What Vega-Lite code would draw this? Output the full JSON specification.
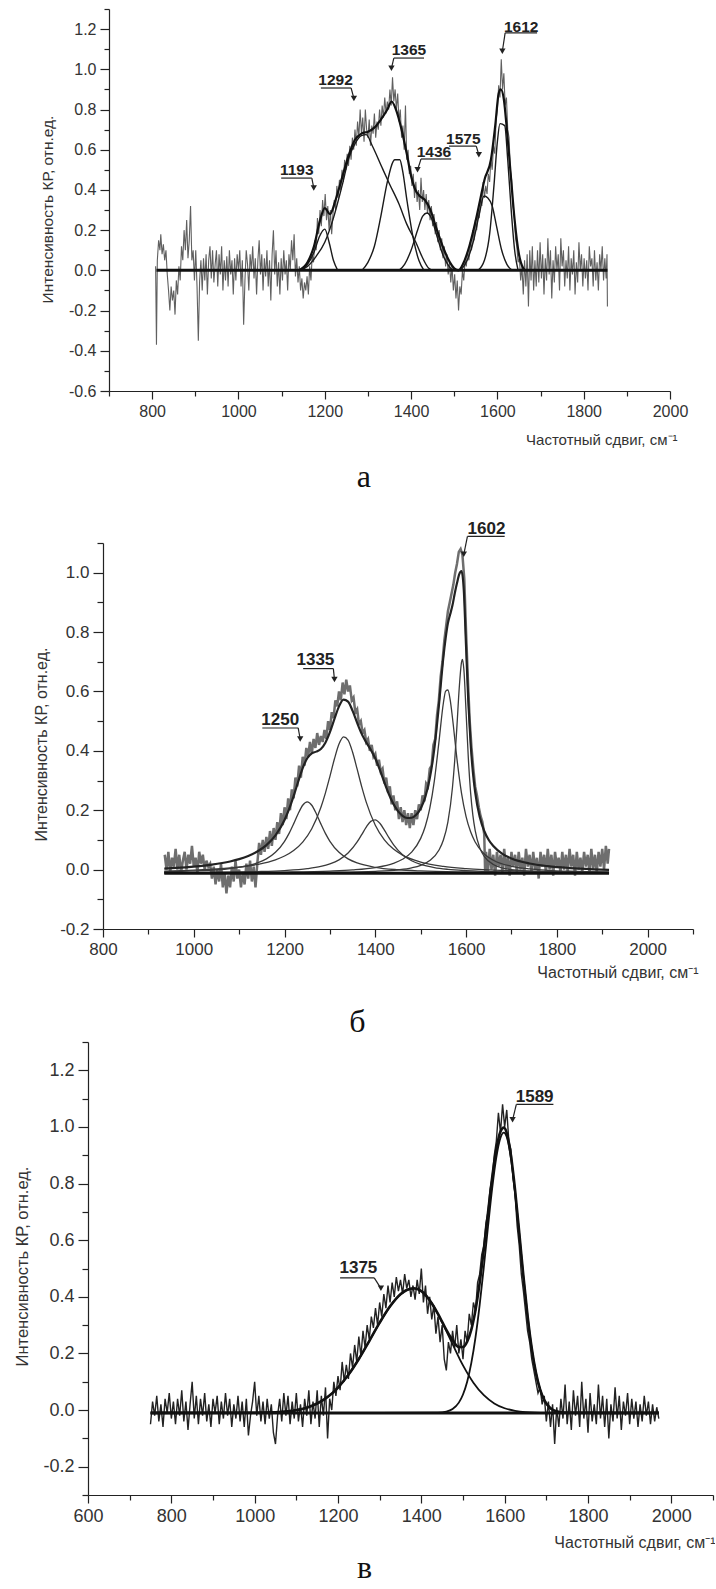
{
  "$schema": "https://vega.github.io/schema/vega-lite/v6.json",
  "padding": {"left": 0, "top": 1, "right": 0, "bottom": 0},
  "spacing": 26,
  "config": {
    "view": {"stroke": null},
    "font": "Liberation Sans",
    "axis": {"domainColor": "#222", "domainWidth": 1.2, "tickColor": "#222", "tickWidth": 1.2, "labelColor": "#333", "titleColor": "#333", "labelFont": "Liberation Sans", "titleFont": "Liberation Sans", "titleFontWeight": "normal", "grid": false, "labelOverlap": false, "labelFlush": false, "labelBound": false},
    "title": {"font": "Liberation Serif", "fontWeight": "normal", "fontSize": 32, "color": "#111"}
  },
  "datasets": {
    "a_noise": [{"x":808,"y":0.02},{"x":810,"y":-0.37},{"x":812,"y":0.05},{"x":815,"y":0.15},{"x":818,"y":0.1},{"x":820,"y":0.18},{"x":823,"y":0.08},{"x":826,"y":0.13},{"x":829,"y":0.05},{"x":832,"y":0.1},{"x":835,"y":-0.02},{"x":838,"y":-0.1},{"x":841,"y":-0.2},{"x":844,"y":-0.08},{"x":847,"y":-0.15},{"x":850,"y":-0.1},{"x":853,"y":-0.22},{"x":856,"y":-0.05},{"x":859,"y":-0.12},{"x":862,"y":0.02},{"x":865,"y":-0.05},{"x":868,"y":0.12},{"x":871,"y":0.05},{"x":874,"y":0.2},{"x":877,"y":0.1},{"x":880,"y":0.25},{"x":883,"y":0.06},{"x":886,"y":0.15},{"x":889,"y":0.32},{"x":892,"y":0.05},{"x":895,"y":0.1},{"x":898,"y":-0.05},{"x":901,"y":0.1},{"x":904,"y":-0.08},{"x":907,"y":-0.35},{"x":910,"y":-0.05},{"x":913,"y":0.05},{"x":916,"y":-0.1},{"x":919,"y":0.06},{"x":922,"y":-0.05},{"x":925,"y":0.08},{"x":928,"y":-0.12},{"x":931,"y":0.05},{"x":934,"y":0.12},{"x":937,"y":-0.04},{"x":940,"y":0.1},{"x":943,"y":-0.06},{"x":946,"y":0.03},{"x":949,"y":0.1},{"x":952,"y":-0.08},{"x":955,"y":0.08},{"x":958,"y":-0.02},{"x":961,"y":0.12},{"x":964,"y":-0.1},{"x":967,"y":0.05},{"x":970,"y":-0.05},{"x":973,"y":0.07},{"x":976,"y":-0.08},{"x":979,"y":0.1},{"x":982,"y":-0.02},{"x":985,"y":0.05},{"x":988,"y":-0.12},{"x":991,"y":0.06},{"x":994,"y":-0.05},{"x":997,"y":0.08},{"x":1000,"y":0.0},{"x":1003,"y":0.1},{"x":1006,"y":-0.08},{"x":1009,"y":0.05},{"x":1012,"y":-0.27},{"x":1015,"y":-0.05},{"x":1018,"y":0.1},{"x":1021,"y":0.03},{"x":1024,"y":-0.1},{"x":1027,"y":0.08},{"x":1030,"y":0.0},{"x":1033,"y":0.12},{"x":1036,"y":-0.04},{"x":1039,"y":0.06},{"x":1042,"y":-0.12},{"x":1045,"y":0.05},{"x":1048,"y":0.15},{"x":1051,"y":-0.02},{"x":1054,"y":0.08},{"x":1057,"y":-0.1},{"x":1060,"y":0.06},{"x":1063,"y":-0.03},{"x":1066,"y":0.1},{"x":1069,"y":-0.08},{"x":1072,"y":0.05},{"x":1075,"y":-0.15},{"x":1078,"y":0.08},{"x":1081,"y":0.2},{"x":1084,"y":-0.02},{"x":1087,"y":0.1},{"x":1090,"y":-0.08},{"x":1093,"y":0.04},{"x":1096,"y":-0.12},{"x":1099,"y":0.06},{"x":1102,"y":-0.05},{"x":1105,"y":0.1},{"x":1108,"y":-0.02},{"x":1111,"y":0.05},{"x":1114,"y":-0.1},{"x":1117,"y":0.08},{"x":1120,"y":0.0},{"x":1123,"y":0.15},{"x":1126,"y":0.05},{"x":1129,"y":0.18},{"x":1132,"y":-0.03},{"x":1135,"y":0.06},{"x":1138,"y":-0.06},{"x":1141,"y":0.02},{"x":1144,"y":-0.1},{"x":1147,"y":-0.04},{"x":1150,"y":-0.14},{"x":1153,"y":-0.06},{"x":1156,"y":-0.1},{"x":1159,"y":-0.03},{"x":1162,"y":-0.12},{"x":1165,"y":0.02},{"x":1168,"y":-0.05},{"x":1171,"y":0.08},{"x":1174,"y":0.04},{"x":1177,"y":0.15},{"x":1180,"y":0.1},{"x":1183,"y":0.26},{"x":1186,"y":0.18},{"x":1189,"y":0.3},{"x":1192,"y":0.22},{"x":1195,"y":0.35},{"x":1198,"y":0.27},{"x":1201,"y":0.38},{"x":1204,"y":0.25},{"x":1207,"y":0.32},{"x":1210,"y":0.2},{"x":1213,"y":0.3},{"x":1216,"y":0.18},{"x":1219,"y":0.28},{"x":1222,"y":0.35},{"x":1225,"y":0.3},{"x":1228,"y":0.42},{"x":1231,"y":0.36},{"x":1234,"y":0.45},{"x":1237,"y":0.4},{"x":1240,"y":0.5},{"x":1243,"y":0.44},{"x":1246,"y":0.55},{"x":1249,"y":0.5},{"x":1252,"y":0.58},{"x":1255,"y":0.52},{"x":1258,"y":0.62},{"x":1261,"y":0.55},{"x":1264,"y":0.66},{"x":1267,"y":0.6},{"x":1270,"y":0.7},{"x":1273,"y":0.62},{"x":1276,"y":0.74},{"x":1279,"y":0.66},{"x":1282,"y":0.8},{"x":1285,"y":0.68},{"x":1288,"y":0.76},{"x":1291,"y":0.64},{"x":1294,"y":0.8},{"x":1297,"y":0.7},{"x":1300,"y":0.66},{"x":1303,"y":0.75},{"x":1306,"y":0.62},{"x":1309,"y":0.72},{"x":1312,"y":0.68},{"x":1315,"y":0.78},{"x":1318,"y":0.66},{"x":1321,"y":0.74},{"x":1324,"y":0.7},{"x":1327,"y":0.8},{"x":1330,"y":0.72},{"x":1333,"y":0.82},{"x":1336,"y":0.76},{"x":1339,"y":0.86},{"x":1342,"y":0.78},{"x":1345,"y":0.84},{"x":1348,"y":0.8},{"x":1351,"y":0.9},{"x":1354,"y":0.82},{"x":1357,"y":0.96},{"x":1360,"y":0.84},{"x":1363,"y":0.9},{"x":1366,"y":0.8},{"x":1369,"y":0.88},{"x":1372,"y":0.74},{"x":1375,"y":0.8},{"x":1378,"y":0.66},{"x":1381,"y":0.72},{"x":1384,"y":0.6},{"x":1387,"y":0.82},{"x":1390,"y":0.55},{"x":1393,"y":0.6},{"x":1396,"y":0.48},{"x":1399,"y":0.52},{"x":1402,"y":0.42},{"x":1405,"y":0.48},{"x":1408,"y":0.36},{"x":1411,"y":0.44},{"x":1414,"y":0.34},{"x":1417,"y":0.4},{"x":1420,"y":0.3},{"x":1423,"y":0.46},{"x":1426,"y":0.34},{"x":1429,"y":0.4},{"x":1432,"y":0.3},{"x":1435,"y":0.38},{"x":1438,"y":0.28},{"x":1441,"y":0.35},{"x":1444,"y":0.25},{"x":1447,"y":0.32},{"x":1450,"y":0.22},{"x":1453,"y":0.28},{"x":1456,"y":0.18},{"x":1459,"y":0.24},{"x":1462,"y":0.14},{"x":1465,"y":0.2},{"x":1468,"y":0.1},{"x":1471,"y":0.16},{"x":1474,"y":0.06},{"x":1477,"y":0.12},{"x":1480,"y":0.02},{"x":1483,"y":0.08},{"x":1486,"y":-0.02},{"x":1489,"y":0.04},{"x":1492,"y":-0.06},{"x":1495,"y":0.02},{"x":1498,"y":-0.1},{"x":1501,"y":-0.02},{"x":1504,"y":-0.14},{"x":1507,"y":-0.05},{"x":1510,"y":-0.2},{"x":1513,"y":-0.08},{"x":1516,"y":-0.12},{"x":1519,"y":0.0},{"x":1522,"y":-0.05},{"x":1525,"y":0.05},{"x":1528,"y":0.02},{"x":1531,"y":0.1},{"x":1534,"y":0.05},{"x":1537,"y":0.14},{"x":1540,"y":0.1},{"x":1543,"y":0.2},{"x":1546,"y":0.15},{"x":1549,"y":0.25},{"x":1552,"y":0.2},{"x":1555,"y":0.3},{"x":1558,"y":0.26},{"x":1561,"y":0.36},{"x":1564,"y":0.32},{"x":1567,"y":0.44},{"x":1570,"y":0.36},{"x":1573,"y":0.42},{"x":1576,"y":0.38},{"x":1579,"y":0.48},{"x":1582,"y":0.44},{"x":1585,"y":0.55},{"x":1588,"y":0.5},{"x":1591,"y":0.62},{"x":1594,"y":0.58},{"x":1597,"y":0.75},{"x":1600,"y":0.8},{"x":1603,"y":0.92},{"x":1606,"y":0.86},{"x":1609,"y":1.05},{"x":1612,"y":0.9},{"x":1615,"y":0.98},{"x":1618,"y":0.82},{"x":1621,"y":0.86},{"x":1624,"y":0.7},{"x":1627,"y":0.66},{"x":1630,"y":0.5},{"x":1633,"y":0.45},{"x":1636,"y":0.32},{"x":1639,"y":0.28},{"x":1642,"y":0.16},{"x":1645,"y":0.12},{"x":1648,"y":0.04},{"x":1651,"y":0.06},{"x":1654,"y":-0.05},{"x":1657,"y":0.02},{"x":1660,"y":-0.12},{"x":1663,"y":0.05},{"x":1666,"y":-0.08},{"x":1669,"y":0.08},{"x":1672,"y":-0.18},{"x":1675,"y":0.1},{"x":1678,"y":-0.05},{"x":1681,"y":0.12},{"x":1684,"y":-0.1},{"x":1687,"y":0.05},{"x":1690,"y":-0.08},{"x":1693,"y":0.1},{"x":1696,"y":-0.06},{"x":1699,"y":0.14},{"x":1702,"y":-0.04},{"x":1705,"y":0.08},{"x":1708,"y":-0.12},{"x":1711,"y":0.06},{"x":1714,"y":-0.05},{"x":1717,"y":0.16},{"x":1720,"y":-0.02},{"x":1723,"y":0.1},{"x":1726,"y":-0.14},{"x":1729,"y":0.05},{"x":1732,"y":-0.06},{"x":1735,"y":0.12},{"x":1738,"y":0.0},{"x":1741,"y":0.08},{"x":1744,"y":-0.1},{"x":1747,"y":0.16},{"x":1750,"y":0.02},{"x":1753,"y":0.1},{"x":1756,"y":-0.08},{"x":1759,"y":0.05},{"x":1762,"y":-0.04},{"x":1765,"y":0.12},{"x":1768,"y":-0.1},{"x":1771,"y":0.06},{"x":1774,"y":-0.02},{"x":1777,"y":0.1},{"x":1780,"y":-0.12},{"x":1783,"y":0.04},{"x":1786,"y":-0.06},{"x":1789,"y":0.14},{"x":1792,"y":0.0},{"x":1795,"y":0.08},{"x":1798,"y":-0.08},{"x":1801,"y":0.06},{"x":1804,"y":-0.04},{"x":1807,"y":0.05},{"x":1810,"y":-0.1},{"x":1813,"y":0.12},{"x":1816,"y":0.02},{"x":1819,"y":0.06},{"x":1822,"y":-0.08},{"x":1825,"y":0.1},{"x":1828,"y":-0.05},{"x":1831,"y":0.04},{"x":1834,"y":-0.1},{"x":1837,"y":0.08},{"x":1840,"y":0.0},{"x":1843,"y":0.12},{"x":1846,"y":-0.05},{"x":1849,"y":0.06},{"x":1852,"y":-0.04},{"x":1854,"y":0.08},{"x":1855,"y":-0.18}],
    "a_comp": [{"s":"1193","x":1145,"y":0},{"s":"1193","x":1160,"y":0.03},{"s":"1193","x":1175,"y":0.09},{"s":"1193","x":1188,"y":0.17},{"s":"1193","x":1200,"y":0.205},{"s":"1193","x":1210,"y":0.14},{"s":"1193","x":1220,"y":0.05},{"s":"1193","x":1230,"y":0},
      {"s":"1292","x":1140,"y":0},{"s":"1292","x":1160,"y":0.02},{"s":"1292","x":1180,"y":0.07},{"s":"1292","x":1200,"y":0.14},{"s":"1292","x":1220,"y":0.26},{"s":"1292","x":1240,"y":0.42},{"s":"1292","x":1256,"y":0.56},{"s":"1292","x":1270,"y":0.63},{"s":"1292","x":1285,"y":0.67},{"s":"1292","x":1296,"y":0.675},{"s":"1292","x":1310,"y":0.62},{"s":"1292","x":1333,"y":0.51},{"s":"1292","x":1350,"y":0.43},{"s":"1292","x":1372,"y":0.33},{"s":"1292","x":1390,"y":0.23},{"s":"1292","x":1411,"y":0.14},{"s":"1292","x":1425,"y":0.07},{"s":"1292","x":1441,"y":0.01},{"s":"1292","x":1450,"y":0},
      {"s":"1365","x":1286,"y":0},{"s":"1365","x":1300,"y":0.04},{"s":"1365","x":1315,"y":0.12},{"s":"1365","x":1330,"y":0.27},{"s":"1365","x":1345,"y":0.44},{"s":"1365","x":1358,"y":0.54},{"s":"1365","x":1362,"y":0.55},{"s":"1365","x":1374,"y":0.55},{"s":"1365","x":1380,"y":0.5},{"s":"1365","x":1391,"y":0.34},{"s":"1365","x":1405,"y":0.16},{"s":"1365","x":1418,"y":0.05},{"s":"1365","x":1430,"y":0},
      {"s":"1436","x":1372,"y":0},{"s":"1436","x":1385,"y":0.03},{"s":"1436","x":1400,"y":0.1},{"s":"1436","x":1415,"y":0.2},{"s":"1436","x":1427,"y":0.27},{"s":"1436","x":1437,"y":0.285},{"s":"1436","x":1447,"y":0.26},{"s":"1436","x":1460,"y":0.17},{"s":"1436","x":1475,"y":0.07},{"s":"1436","x":1488,"y":0.02},{"s":"1436","x":1497,"y":0},
      {"s":"1575","x":1515,"y":0},{"s":"1575","x":1530,"y":0.05},{"s":"1575","x":1545,"y":0.15},{"s":"1575","x":1558,"y":0.28},{"s":"1575","x":1569,"y":0.37},{"s":"1575","x":1578,"y":0.36},{"s":"1575","x":1588,"y":0.32},{"s":"1575","x":1598,"y":0.22},{"s":"1575","x":1610,"y":0.1},{"s":"1575","x":1622,"y":0.03},{"s":"1575","x":1635,"y":0},
      {"s":"1612","x":1555,"y":0},{"s":"1612","x":1570,"y":0.05},{"s":"1612","x":1582,"y":0.18},{"s":"1612","x":1592,"y":0.42},{"s":"1612","x":1600,"y":0.64},{"s":"1612","x":1606,"y":0.73},{"s":"1612","x":1617,"y":0.72},{"s":"1612","x":1624,"y":0.55},{"s":"1612","x":1632,"y":0.3},{"s":"1612","x":1640,"y":0.1},{"s":"1612","x":1648,"y":0}],
    "a_env": [{"x":1140,"y":0},{"x":1160,"y":0.04},{"x":1175,"y":0.12},{"x":1188,"y":0.24},{"x":1200,"y":0.31},{"x":1212,"y":0.28},{"x":1225,"y":0.35},{"x":1240,"y":0.46},{"x":1255,"y":0.57},{"x":1270,"y":0.65},{"x":1285,"y":0.68},{"x":1300,"y":0.69},{"x":1315,"y":0.71},{"x":1330,"y":0.75},{"x":1345,"y":0.8},{"x":1355,"y":0.84},{"x":1365,"y":0.8},{"x":1378,"y":0.7},{"x":1390,"y":0.58},{"x":1400,"y":0.47},{"x":1410,"y":0.4},{"x":1420,"y":0.37},{"x":1432,"y":0.35},{"x":1445,"y":0.3},{"x":1460,"y":0.2},{"x":1475,"y":0.11},{"x":1490,"y":0.04},{"x":1500,"y":0.01},{"x":1510,"y":0},{"x":1520,"y":0.03},{"x":1535,"y":0.12},{"x":1550,"y":0.25},{"x":1560,"y":0.35},{"x":1570,"y":0.45},{"x":1585,"y":0.55},{"x":1595,"y":0.72},{"x":1603,"y":0.88},{"x":1608,"y":0.9},{"x":1615,"y":0.85},{"x":1622,"y":0.7},{"x":1630,"y":0.5},{"x":1640,"y":0.25},{"x":1650,"y":0.08},{"x":1660,"y":0.01},{"x":1665,"y":0}],
    "a_base": [{"x":810,"y":0},{"x":1855,"y":0}],
    "a_lab": [{"t":"1292","x":1225,"y":0.947},{"t":"1193","x":1135,"y":0.499},{"t":"1365","x":1395,"y":1.096},{"t":"1612","x":1655,"y":1.21},{"t":"1436","x":1453,"y":0.589},{"t":"1575","x":1521,"y":0.653}],
    "a_ul": [{"x":1191,"x2":1261,"y":0.907},{"x":1099,"x2":1170,"y":0.459},{"x":1360,"x2":1430,"y":1.056},{"x":1618,"x2":1692,"y":1.181},{"x":1423,"x2":1493,"y":0.554},{"x":1488,"x2":1551,"y":0.618}],
    "a_ld": [{"x":1261,"y":0.907,"x2":1267.5,"y2":0.855},{"x":1170,"y":0.459,"x2":1174.5,"y2":0.41},{"x":1360,"y":1.056,"x2":1354.5,"y2":1.005},{"x":1618,"y":1.181,"x2":1611.5,"y2":1.09},{"x":1423,"y":0.554,"x2":1415,"y2":0.5},{"x":1551,"y":0.618,"x2":1557,"y2":0.575}],
    "a_ar": [{"x":1267.5,"y":0.855},{"x":1174.5,"y":0.41},{"x":1354.5,"y":1.005},{"x":1611.5,"y":1.09},{"x":1415,"y":0.5},{"x":1557,"y":0.575}],
    "b_noise": [{"x":936,"y":0.05},{"x":940,"y":0.0},{"x":944,"y":0.06},{"x":948,"y":-0.01},{"x":952,"y":0.04},{"x":956,"y":0.01},{"x":960,"y":0.07},{"x":964,"y":0.0},{"x":968,"y":0.05},{"x":972,"y":-0.01},{"x":976,"y":0.03},{"x":980,"y":0.06},{"x":984,"y":0.0},{"x":988,"y":0.05},{"x":992,"y":0.02},{"x":996,"y":0.08},{"x":1000,"y":0.01},{"x":1004,"y":0.04},{"x":1008,"y":-0.01},{"x":1012,"y":0.06},{"x":1016,"y":0.02},{"x":1020,"y":0.05},{"x":1024,"y":0.0},{"x":1028,"y":0.03},{"x":1032,"y":0.01},{"x":1036,"y":0.02},{"x":1040,"y":-0.03},{"x":1044,"y":0.01},{"x":1048,"y":-0.05},{"x":1052,"y":0.0},{"x":1056,"y":-0.04},{"x":1060,"y":0.02},{"x":1064,"y":-0.06},{"x":1068,"y":-0.01},{"x":1072,"y":-0.08},{"x":1076,"y":-0.02},{"x":1080,"y":-0.06},{"x":1084,"y":0.01},{"x":1088,"y":-0.04},{"x":1092,"y":0.03},{"x":1096,"y":-0.03},{"x":1100,"y":0.0},{"x":1104,"y":-0.06},{"x":1108,"y":-0.01},{"x":1112,"y":-0.05},{"x":1116,"y":0.02},{"x":1120,"y":-0.03},{"x":1124,"y":0.03},{"x":1128,"y":-0.04},{"x":1132,"y":0.01},{"x":1136,"y":-0.06},{"x":1140,"y":0.02},{"x":1144,"y":0.09},{"x":1148,"y":0.05},{"x":1152,"y":0.1},{"x":1156,"y":0.06},{"x":1160,"y":0.11},{"x":1164,"y":0.07},{"x":1168,"y":0.13},{"x":1172,"y":0.08},{"x":1176,"y":0.14},{"x":1180,"y":0.1},{"x":1184,"y":0.16},{"x":1188,"y":0.12},{"x":1192,"y":0.19},{"x":1196,"y":0.15},{"x":1200,"y":0.21},{"x":1204,"y":0.17},{"x":1208,"y":0.24},{"x":1212,"y":0.2},{"x":1216,"y":0.27},{"x":1220,"y":0.24},{"x":1224,"y":0.31},{"x":1228,"y":0.28},{"x":1232,"y":0.35},{"x":1236,"y":0.31},{"x":1240,"y":0.38},{"x":1244,"y":0.35},{"x":1248,"y":0.41},{"x":1252,"y":0.38},{"x":1256,"y":0.43},{"x":1260,"y":0.39},{"x":1264,"y":0.44},{"x":1268,"y":0.41},{"x":1272,"y":0.46},{"x":1276,"y":0.42},{"x":1280,"y":0.45},{"x":1284,"y":0.43},{"x":1288,"y":0.47},{"x":1292,"y":0.44},{"x":1296,"y":0.5},{"x":1300,"y":0.47},{"x":1304,"y":0.53},{"x":1308,"y":0.51},{"x":1312,"y":0.57},{"x":1316,"y":0.55},{"x":1320,"y":0.6},{"x":1324,"y":0.57},{"x":1328,"y":0.63},{"x":1332,"y":0.59},{"x":1336,"y":0.64},{"x":1340,"y":0.6},{"x":1344,"y":0.62},{"x":1348,"y":0.57},{"x":1352,"y":0.58},{"x":1356,"y":0.53},{"x":1360,"y":0.54},{"x":1364,"y":0.49},{"x":1368,"y":0.5},{"x":1372,"y":0.46},{"x":1376,"y":0.47},{"x":1380,"y":0.43},{"x":1384,"y":0.44},{"x":1388,"y":0.4},{"x":1392,"y":0.42},{"x":1396,"y":0.38},{"x":1400,"y":0.39},{"x":1404,"y":0.35},{"x":1408,"y":0.37},{"x":1412,"y":0.33},{"x":1416,"y":0.34},{"x":1420,"y":0.29},{"x":1424,"y":0.31},{"x":1428,"y":0.26},{"x":1432,"y":0.28},{"x":1436,"y":0.22},{"x":1440,"y":0.25},{"x":1444,"y":0.2},{"x":1448,"y":0.23},{"x":1452,"y":0.17},{"x":1456,"y":0.21},{"x":1460,"y":0.16},{"x":1464,"y":0.2},{"x":1468,"y":0.15},{"x":1472,"y":0.19},{"x":1476,"y":0.14},{"x":1480,"y":0.19},{"x":1484,"y":0.15},{"x":1488,"y":0.2},{"x":1492,"y":0.17},{"x":1496,"y":0.22},{"x":1500,"y":0.2},{"x":1504,"y":0.25},{"x":1508,"y":0.23},{"x":1512,"y":0.29},{"x":1516,"y":0.28},{"x":1520,"y":0.34},{"x":1524,"y":0.35},{"x":1528,"y":0.42},{"x":1532,"y":0.44},{"x":1536,"y":0.52},{"x":1540,"y":0.57},{"x":1544,"y":0.65},{"x":1548,"y":0.7},{"x":1552,"y":0.77},{"x":1556,"y":0.82},{"x":1560,"y":0.87},{"x":1564,"y":0.9},{"x":1568,"y":0.93},{"x":1572,"y":0.96},{"x":1576,"y":1.0},{"x":1580,"y":1.03},{"x":1584,"y":1.07},{"x":1588,"y":1.08},{"x":1592,"y":1.06},{"x":1596,"y":0.98},{"x":1600,"y":0.8},{"x":1604,"y":0.64},{"x":1608,"y":0.5},{"x":1612,"y":0.41},{"x":1616,"y":0.34},{"x":1620,"y":0.28},{"x":1624,"y":0.25},{"x":1628,"y":0.21},{"x":1632,"y":0.18},{"x":1636,"y":0.16},{"x":1640,"y":0.12},{"x":1642,"y":-0.01},{"x":1644,"y":0.06},{"x":1648,"y":-0.01},{"x":1652,"y":0.07},{"x":1656,"y":0.0},{"x":1660,"y":0.05},{"x":1664,"y":-0.02},{"x":1668,"y":0.06},{"x":1672,"y":0.01},{"x":1676,"y":0.05},{"x":1680,"y":-0.01},{"x":1684,"y":0.07},{"x":1688,"y":0.0},{"x":1692,"y":0.04},{"x":1696,"y":-0.02},{"x":1700,"y":0.06},{"x":1704,"y":0.01},{"x":1708,"y":0.05},{"x":1712,"y":-0.01},{"x":1716,"y":0.06},{"x":1720,"y":0.0},{"x":1724,"y":0.04},{"x":1728,"y":-0.02},{"x":1732,"y":0.07},{"x":1736,"y":0.01},{"x":1740,"y":0.05},{"x":1744,"y":-0.01},{"x":1748,"y":0.06},{"x":1752,"y":0.0},{"x":1756,"y":0.04},{"x":1760,"y":-0.03},{"x":1764,"y":0.06},{"x":1768,"y":0.01},{"x":1772,"y":0.05},{"x":1776,"y":-0.01},{"x":1780,"y":0.07},{"x":1784,"y":0.0},{"x":1788,"y":0.05},{"x":1792,"y":-0.02},{"x":1796,"y":0.06},{"x":1800,"y":0.01},{"x":1804,"y":0.04},{"x":1808,"y":-0.01},{"x":1812,"y":0.06},{"x":1816,"y":0.0},{"x":1820,"y":0.05},{"x":1824,"y":-0.01},{"x":1828,"y":0.07},{"x":1832,"y":0.01},{"x":1836,"y":0.05},{"x":1840,"y":-0.02},{"x":1844,"y":0.06},{"x":1848,"y":0.0},{"x":1852,"y":0.04},{"x":1856,"y":-0.01},{"x":1860,"y":0.06},{"x":1864,"y":0.01},{"x":1868,"y":0.05},{"x":1872,"y":-0.01},{"x":1876,"y":0.07},{"x":1880,"y":0.0},{"x":1884,"y":0.05},{"x":1888,"y":-0.01},{"x":1892,"y":0.06},{"x":1896,"y":0.01},{"x":1900,"y":0.07},{"x":1904,"y":0.0},{"x":1908,"y":0.08},{"x":1912,"y":0.02},{"x":1915,"y":0.07}],
    "b_comp": [{"s":"1250","x":935,"y":-0.0072},{"s":"1250","x":1000,"y":-0.0045},{"s":"1250","x":1080,"y":0.0037},{"s":"1250","x":1140,"y":0.0224},{"s":"1250","x":1160,"y":0.036},{"s":"1250","x":1180,"y":0.0582},{"s":"1250","x":1200,"y":0.0954},{"s":"1250","x":1210,"y":0.122},{"s":"1250","x":1220,"y":0.154},{"s":"1250","x":1230,"y":0.1884},{"s":"1250","x":1240,"y":0.2168},{"s":"1250","x":1250,"y":0.228},{"s":"1250","x":1260,"y":0.2168},{"s":"1250","x":1270,"y":0.1884},{"s":"1250","x":1280,"y":0.154},{"s":"1250","x":1290,"y":0.122},{"s":"1250","x":1300,"y":0.0954},{"s":"1250","x":1320,"y":0.0582},{"s":"1250","x":1340,"y":0.036},{"s":"1250","x":1360,"y":0.0224},{"s":"1250","x":1400,"y":0.0078},{"s":"1250","x":1450,"y":-0.0004},{"s":"1250","x":1500,"y":-0.0045},{"s":"1250","x":1600,"y":-0.008},{"s":"1250","x":1700,"y":-0.0096},{"s":"1250","x":1800,"y":-0.0104},{"s":"1250","x":1915,"y":-0.0109},
      {"s":"1335","x":935,"y":-0.0048},{"s":"1335","x":1000,"y":-0.0018},{"s":"1335","x":1080,"y":0.0054},{"s":"1335","x":1140,"y":0.0173},{"s":"1335","x":1180,"y":0.0329},{"s":"1335","x":1200,"y":0.0457},{"s":"1335","x":1220,"y":0.0644},{"s":"1335","x":1240,"y":0.0928},{"s":"1335","x":1260,"y":0.1378},{"s":"1335","x":1280,"y":0.209},{"s":"1335","x":1290,"y":0.2577},{"s":"1335","x":1300,"y":0.3142},{"s":"1335","x":1310,"y":0.3733},{"s":"1335","x":1320,"y":0.423},{"s":"1335","x":1330,"y":0.4473},{"s":"1335","x":1340,"y":0.4365},{"s":"1335","x":1350,"y":0.3952},{"s":"1335","x":1360,"y":0.3382},{"s":"1335","x":1370,"y":0.2795},{"s":"1335","x":1380,"y":0.2273},{"s":"1335","x":1400,"y":0.1494},{"s":"1335","x":1420,"y":0.1002},{"s":"1335","x":1440,"y":0.0691},{"s":"1335","x":1460,"y":0.0489},{"s":"1335","x":1500,"y":0.0254},{"s":"1335","x":1550,"y":0.011},{"s":"1335","x":1600,"y":0.0035},{"s":"1335","x":1700,"y":-0.0037},{"s":"1335","x":1800,"y":-0.0066},{"s":"1335","x":1915,"y":-0.0086},
      {"s":"1400","x":935,"y":-0.0103},{"s":"1400","x":1000,"y":-0.0097},{"s":"1400","x":1080,"y":-0.0085},{"s":"1400","x":1140,"y":-0.0067},{"s":"1400","x":1200,"y":-0.0032},{"s":"1400","x":1250,"y":0.0032},{"s":"1400","x":1280,"y":0.0108},{"s":"1400","x":1300,"y":0.0194},{"s":"1400","x":1320,"y":0.033},{"s":"1400","x":1340,"y":0.0557},{"s":"1400","x":1360,"y":0.0931},{"s":"1400","x":1370,"y":0.1178},{"s":"1400","x":1380,"y":0.1432},{"s":"1400","x":1390,"y":0.1625},{"s":"1400","x":1400,"y":0.1676},{"s":"1400","x":1410,"y":0.156},{"s":"1400","x":1420,"y":0.1333},{"s":"1400","x":1430,"y":0.1075},{"s":"1400","x":1440,"y":0.0842},{"s":"1400","x":1460,"y":0.0501},{"s":"1400","x":1480,"y":0.0297},{"s":"1400","x":1500,"y":0.0173},{"s":"1400","x":1530,"y":0.0067},{"s":"1400","x":1560,"y":0.0009},{"s":"1400","x":1600,"y":-0.0035},{"s":"1400","x":1700,"y":-0.0081},{"s":"1400","x":1800,"y":-0.0098},{"s":"1400","x":1915,"y":-0.0106},
      {"s":"1560","x":935,"y":-0.0107},{"s":"1560","x":1100,"y":-0.0097},{"s":"1560","x":1200,"y":-0.0082},{"s":"1560","x":1300,"y":-0.0048},{"s":"1560","x":1350,"y":-0.001},{"s":"1560","x":1400,"y":0.0069},{"s":"1560","x":1440,"y":0.021},{"s":"1560","x":1460,"y":0.0348},{"s":"1560","x":1480,"y":0.0588},{"s":"1560","x":1500,"y":0.1052},{"s":"1560","x":1510,"y":0.1454},{"s":"1560","x":1520,"y":0.2063},{"s":"1560","x":1530,"y":0.298},{"s":"1560","x":1540,"y":0.4268},{"s":"1560","x":1550,"y":0.5612},{"s":"1560","x":1555,"y":0.601},{"s":"1560","x":1560,"y":0.6049},{"s":"1560","x":1565,"y":0.5715},{"s":"1560","x":1570,"y":0.5116},{"s":"1560","x":1580,"y":0.3714},{"s":"1560","x":1590,"y":0.2569},{"s":"1560","x":1600,"y":0.1788},{"s":"1560","x":1610,"y":0.1273},{"s":"1560","x":1620,"y":0.0931},{"s":"1560","x":1640,"y":0.0527},{"s":"1560","x":1660,"y":0.0314},{"s":"1560","x":1700,"y":0.0112},{"s":"1560","x":1740,"y":0.0023},{"s":"1560","x":1780,"y":-0.0023},{"s":"1560","x":1830,"y":-0.0055},{"s":"1560","x":1915,"y":-0.0082},
      {"s":"1602","x":935,"y":-0.0115},{"s":"1602","x":1200,"y":-0.0105},{"s":"1602","x":1300,"y":-0.0093},{"s":"1602","x":1400,"y":-0.0057},{"s":"1602","x":1450,"y":-0.0006},{"s":"1602","x":1480,"y":0.0061},{"s":"1602","x":1500,"y":0.0146},{"s":"1602","x":1520,"y":0.0304},{"s":"1602","x":1540,"y":0.065},{"s":"1602","x":1550,"y":0.0998},{"s":"1602","x":1560,"y":0.1611},{"s":"1602","x":1570,"y":0.2767},{"s":"1602","x":1575,"y":0.3685},{"s":"1602","x":1580,"y":0.4865},{"s":"1602","x":1585,"y":0.6133},{"s":"1602","x":1590,"y":0.6992},{"s":"1602","x":1592,"y":0.708},{"s":"1602","x":1595,"y":0.6764},{"s":"1602","x":1600,"y":0.5308},{"s":"1602","x":1605,"y":0.3747},{"s":"1602","x":1610,"y":0.2594},{"s":"1602","x":1615,"y":0.1826},{"s":"1602","x":1620,"y":0.132},{"s":"1602","x":1630,"y":0.074},{"s":"1602","x":1640,"y":0.0444},{"s":"1602","x":1660,"y":0.0173},{"s":"1602","x":1700,"y":-0.0001},{"s":"1602","x":1780,"y":-0.008},{"s":"1602","x":1915,"y":-0.0106}],
    "b_env": [{"x":935,"y":0.0035},{"x":960,"y":0.0056},{"x":1000,"y":0.0102},{"x":1040,"y":0.0169},{"x":1080,"y":0.0275},{"x":1100,"y":0.0353},{"x":1120,"y":0.0458},{"x":1140,"y":0.0609},{"x":1160,"y":0.0824},{"x":1180,"y":0.1151},{"x":1200,"y":0.1672},{"x":1210,"y":0.2036},{"x":1220,"y":0.2473},{"x":1230,"y":0.296},{"x":1240,"y":0.3419},{"x":1250,"y":0.375},{"x":1260,"y":0.3915},{"x":1270,"y":0.3974},{"x":1280,"y":0.4064},{"x":1290,"y":0.4275},{"x":1300,"y":0.4629},{"x":1310,"y":0.5077},{"x":1320,"y":0.5498},{"x":1330,"y":0.5724},{"x":1340,"y":0.5658},{"x":1350,"y":0.5346},{"x":1360,"y":0.4942},{"x":1370,"y":0.4572},{"x":1380,"y":0.4285},{"x":1390,"y":0.4037},{"x":1400,"y":0.374},{"x":1410,"y":0.3362},{"x":1420,"y":0.2936},{"x":1430,"y":0.2538},{"x":1440,"y":0.2211},{"x":1450,"y":0.1971},{"x":1460,"y":0.1814},{"x":1470,"y":0.1739},{"x":1480,"y":0.1746},{"x":1490,"y":0.1845},{"x":1500,"y":0.206},{"x":1510,"y":0.2441},{"x":1520,"y":0.3072},{"x":1530,"y":0.4063},{"x":1540,"y":0.5509},{"x":1550,"y":0.7158},{"x":1555,"y":0.7795},{"x":1560,"y":0.83},{"x":1565,"y":0.86},{"x":1570,"y":0.89},{"x":1575,"y":0.93},{"x":1580,"y":0.965},{"x":1585,"y":0.995},{"x":1590,"y":1.005},{"x":1595,"y":0.94},{"x":1600,"y":0.7496},{"x":1605,"y":0.5641},{"x":1610,"y":0.4247},{"x":1615,"y":0.3283},{"x":1620,"y":0.2613},{"x":1630,"y":0.1779},{"x":1640,"y":0.1301},{"x":1650,"y":0.0998},{"x":1660,"y":0.0793},{"x":1680,"y":0.0532},{"x":1700,"y":0.0377},{"x":1740,"y":0.0207},{"x":1780,"y":0.0116},{"x":1830,"y":0.0051},{"x":1880,"y":0.0011},{"x":1915,"y":-0.0009}],
    "b_base": [{"x":935,"y":-0.012},{"x":1915,"y":-0.012}],
    "b_lab": [{"t":"1250","x":1190.6,"y":0.504},{"t":"1335","x":1268,"y":0.705},{"t":"1602","x":1645,"y":1.148}],
    "b_ul": [{"x":1151,"x2":1230,"y":0.477},{"x":1241,"x2":1307.6,"y":0.677},{"x":1603,"x2":1685,"y":1.122}],
    "b_ld": [{"x":1230,"y":0.477,"x2":1234.5,"y2":0.44},{"x":1307.6,"y":0.677,"x2":1310,"y2":0.64},{"x":1603,"y":1.122,"x2":1595,"y2":1.062}],
    "b_ar": [{"x":1234.5,"y":0.44},{"x":1310,"y":0.64},{"x":1595,"y":1.062}],
    "c_noise": [{"x":750,"y":-0.05},{"x":755,"y":0.03},{"x":760,"y":-0.02},{"x":765,"y":0.05},{"x":770,"y":-0.04},{"x":775,"y":0.02},{"x":780,"y":-0.06},{"x":785,"y":0.04},{"x":790,"y":-0.01},{"x":795,"y":0.06},{"x":800,"y":-0.03},{"x":805,"y":0.03},{"x":810,"y":-0.05},{"x":815,"y":0.04},{"x":820,"y":-0.02},{"x":825,"y":0.07},{"x":830,"y":-0.04},{"x":835,"y":0.03},{"x":840,"y":-0.07},{"x":845,"y":0.02},{"x":850,"y":0.1},{"x":855,"y":-0.03},{"x":860,"y":0.05},{"x":865,"y":-0.05},{"x":870,"y":0.04},{"x":875,"y":-0.02},{"x":880,"y":0.06},{"x":885,"y":-0.04},{"x":890,"y":0.02},{"x":895,"y":-0.06},{"x":900,"y":0.04},{"x":905,"y":-0.01},{"x":910,"y":0.05},{"x":915,"y":-0.05},{"x":920,"y":0.03},{"x":925,"y":-0.03},{"x":930,"y":0.06},{"x":935,"y":-0.02},{"x":940,"y":0.04},{"x":945,"y":-0.06},{"x":950,"y":0.02},{"x":955,"y":-0.03},{"x":960,"y":0.05},{"x":965,"y":-0.04},{"x":970,"y":0.03},{"x":975,"y":-0.06},{"x":980,"y":0.04},{"x":985,"y":-0.09},{"x":990,"y":-0.02},{"x":995,"y":0.03},{"x":1000,"y":0.1},{"x":1005,"y":-0.02},{"x":1010,"y":0.05},{"x":1015,"y":-0.04},{"x":1020,"y":0.03},{"x":1025,"y":-0.05},{"x":1030,"y":0.04},{"x":1035,"y":-0.03},{"x":1040,"y":0.02},{"x":1045,"y":-0.08},{"x":1050,"y":-0.12},{"x":1055,"y":-0.02},{"x":1060,"y":0.04},{"x":1065,"y":-0.04},{"x":1070,"y":0.06},{"x":1075,"y":-0.02},{"x":1080,"y":0.05},{"x":1085,"y":-0.05},{"x":1090,"y":0.03},{"x":1095,"y":-0.03},{"x":1100,"y":0.06},{"x":1105,"y":-0.04},{"x":1110,"y":0.02},{"x":1115,"y":-0.06},{"x":1120,"y":0.04},{"x":1125,"y":-0.02},{"x":1130,"y":0.07},{"x":1135,"y":-0.05},{"x":1140,"y":0.03},{"x":1145,"y":-0.03},{"x":1150,"y":0.07},{"x":1155,"y":-0.06},{"x":1160,"y":0.05},{"x":1165,"y":-0.02},{"x":1170,"y":0.08},{"x":1175,"y":-0.1},{"x":1180,"y":0.04},{"x":1185,"y":0.0},{"x":1190,"y":0.1},{"x":1195,"y":0.05},{"x":1200,"y":0.12},{"x":1205,"y":0.07},{"x":1210,"y":0.17},{"x":1215,"y":0.1},{"x":1220,"y":0.16},{"x":1225,"y":0.11},{"x":1230,"y":0.2},{"x":1235,"y":0.15},{"x":1240,"y":0.23},{"x":1245,"y":0.17},{"x":1250,"y":0.26},{"x":1255,"y":0.19},{"x":1260,"y":0.28},{"x":1265,"y":0.22},{"x":1270,"y":0.3},{"x":1275,"y":0.25},{"x":1280,"y":0.33},{"x":1285,"y":0.29},{"x":1290,"y":0.36},{"x":1295,"y":0.3},{"x":1300,"y":0.38},{"x":1305,"y":0.33},{"x":1310,"y":0.41},{"x":1315,"y":0.36},{"x":1320,"y":0.44},{"x":1325,"y":0.38},{"x":1330,"y":0.45},{"x":1335,"y":0.4},{"x":1340,"y":0.47},{"x":1345,"y":0.42},{"x":1350,"y":0.46},{"x":1355,"y":0.41},{"x":1360,"y":0.48},{"x":1365,"y":0.43},{"x":1370,"y":0.46},{"x":1375,"y":0.4},{"x":1380,"y":0.44},{"x":1385,"y":0.39},{"x":1390,"y":0.46},{"x":1395,"y":0.41},{"x":1400,"y":0.5},{"x":1405,"y":0.38},{"x":1410,"y":0.44},{"x":1415,"y":0.34},{"x":1420,"y":0.4},{"x":1425,"y":0.32},{"x":1430,"y":0.37},{"x":1435,"y":0.27},{"x":1440,"y":0.33},{"x":1445,"y":0.24},{"x":1450,"y":0.3},{"x":1455,"y":0.18},{"x":1460,"y":0.14},{"x":1465,"y":0.24},{"x":1470,"y":0.2},{"x":1475,"y":0.28},{"x":1480,"y":0.22},{"x":1485,"y":0.3},{"x":1490,"y":0.2},{"x":1495,"y":0.25},{"x":1500,"y":0.18},{"x":1505,"y":0.28},{"x":1510,"y":0.24},{"x":1515,"y":0.34},{"x":1520,"y":0.3},{"x":1525,"y":0.38},{"x":1530,"y":0.35},{"x":1535,"y":0.45},{"x":1540,"y":0.48},{"x":1545,"y":0.55},{"x":1550,"y":0.58},{"x":1555,"y":0.66},{"x":1560,"y":0.7},{"x":1565,"y":0.78},{"x":1570,"y":0.82},{"x":1575,"y":0.9},{"x":1580,"y":0.95},{"x":1585,"y":1.05},{"x":1590,"y":0.98},{"x":1595,"y":1.08},{"x":1600,"y":1.0},{"x":1605,"y":1.06},{"x":1610,"y":0.95},{"x":1615,"y":0.92},{"x":1620,"y":0.82},{"x":1625,"y":0.76},{"x":1630,"y":0.65},{"x":1635,"y":0.58},{"x":1640,"y":0.48},{"x":1645,"y":0.42},{"x":1650,"y":0.35},{"x":1655,"y":0.28},{"x":1660,"y":0.24},{"x":1665,"y":0.18},{"x":1670,"y":0.14},{"x":1675,"y":0.1},{"x":1680,"y":0.06},{"x":1685,"y":0.08},{"x":1690,"y":0.02},{"x":1695,"y":0.05},{"x":1700,"y":-0.04},{"x":1705,"y":0.03},{"x":1710,"y":-0.06},{"x":1715,"y":0.02},{"x":1720,"y":-0.12},{"x":1725,"y":0.01},{"x":1730,"y":-0.06},{"x":1735,"y":0.04},{"x":1740,"y":-0.03},{"x":1745,"y":0.09},{"x":1750,"y":-0.05},{"x":1755,"y":0.03},{"x":1760,"y":-0.07},{"x":1765,"y":0.07},{"x":1770,"y":-0.02},{"x":1775,"y":0.05},{"x":1780,"y":-0.06},{"x":1785,"y":0.1},{"x":1790,"y":-0.03},{"x":1795,"y":0.04},{"x":1800,"y":-0.08},{"x":1805,"y":0.06},{"x":1810,"y":-0.04},{"x":1815,"y":0.02},{"x":1820,"y":-0.05},{"x":1825,"y":0.09},{"x":1830,"y":-0.03},{"x":1835,"y":0.05},{"x":1840,"y":-0.06},{"x":1845,"y":0.04},{"x":1850,"y":-0.1},{"x":1855,"y":0.02},{"x":1860,"y":-0.04},{"x":1865,"y":0.08},{"x":1870,"y":-0.03},{"x":1875,"y":0.05},{"x":1880,"y":-0.07},{"x":1885,"y":0.03},{"x":1890,"y":-0.02},{"x":1895,"y":0.06},{"x":1900,"y":-0.05},{"x":1905,"y":0.04},{"x":1910,"y":-0.03},{"x":1915,"y":0.03},{"x":1920,"y":-0.06},{"x":1925,"y":0.02},{"x":1930,"y":-0.04},{"x":1935,"y":0.05},{"x":1940,"y":-0.02},{"x":1945,"y":0.03},{"x":1950,"y":-0.05},{"x":1955,"y":0.02},{"x":1960,"y":-0.04},{"x":1965,"y":0.01},{"x":1970,"y":-0.03}],
    "c_comp": [{"s":"1375","x":1100,"y":-0.0003},{"s":"1375","x":1125,"y":0.0084},{"s":"1375","x":1150,"y":0.0232},{"s":"1375","x":1175,"y":0.0462},{"s":"1375","x":1200,"y":0.0796},{"s":"1375","x":1225,"y":0.1246},{"s":"1375","x":1250,"y":0.1803},{"s":"1375","x":1275,"y":0.2438},{"s":"1375","x":1300,"y":0.3086},{"s":"1375","x":1325,"y":0.3663},{"s":"1375","x":1350,"y":0.4089},{"s":"1375","x":1365,"y":0.4239},{"s":"1375","x":1382,"y":0.43},{"s":"1375","x":1400,"y":0.4203},{"s":"1375","x":1425,"y":0.3772},{"s":"1375","x":1450,"y":0.3095},{"s":"1375","x":1475,"y":0.2327},{"s":"1375","x":1500,"y":0.1578},{"s":"1375","x":1525,"y":0.0968},{"s":"1375","x":1550,"y":0.0524},{"s":"1375","x":1575,"y":0.0235},{"s":"1375","x":1600,"y":0.0064},{"s":"1375","x":1625,"y":-0.0026},{"s":"1375","x":1650,"y":-0.007},{"s":"1375","x":1700,"y":-0.0096},{"s":"1375","x":1750,"y":-0.01},{"s":"1375","x":1970,"y":-0.01},
      {"s":"1589","x":1120,"y":-0.01},{"s":"1589","x":1440,"y":-0.0092},{"s":"1589","x":1460,"y":-0.0055},{"s":"1589","x":1475,"y":0.0036},{"s":"1589","x":1490,"y":0.0263},{"s":"1589","x":1500,"y":0.0551},{"s":"1589","x":1510,"y":0.1003},{"s":"1589","x":1520,"y":0.1665},{"s":"1589","x":1530,"y":0.257},{"s":"1589","x":1540,"y":0.3716},{"s":"1589","x":1550,"y":0.5053},{"s":"1589","x":1560,"y":0.6474},{"s":"1589","x":1570,"y":0.783},{"s":"1589","x":1580,"y":0.8929},{"s":"1589","x":1590,"y":0.9622},{"s":"1589","x":1598,"y":0.98},{"s":"1589","x":1605,"y":0.9642},{"s":"1589","x":1615,"y":0.8899},{"s":"1589","x":1625,"y":0.7691},{"s":"1589","x":1635,"y":0.6212},{"s":"1589","x":1645,"y":0.469},{"s":"1589","x":1655,"y":0.3303},{"s":"1589","x":1665,"y":0.2163},{"s":"1589","x":1675,"y":0.131},{"s":"1589","x":1685,"y":0.0722},{"s":"1589","x":1695,"y":0.0348},{"s":"1589","x":1710,"y":0.006},{"s":"1589","x":1725,"y":-0.005},{"s":"1589","x":1750,"y":-0.0095},{"s":"1589","x":1970,"y":-0.01}],
    "c_env": [{"x":750,"y":-0.01},{"x":1000,"y":-0.0096},{"x":1050,"y":-0.0078},{"x":1100,"y":-0.0003},{"x":1125,"y":0.0084},{"x":1150,"y":0.0232},{"x":1175,"y":0.0462},{"x":1200,"y":0.0796},{"x":1225,"y":0.1246},{"x":1250,"y":0.1803},{"x":1275,"y":0.2438},{"x":1300,"y":0.3086},{"x":1325,"y":0.3663},{"x":1350,"y":0.4089},{"x":1365,"y":0.4239},{"x":1382,"y":0.43},{"x":1400,"y":0.4203},{"x":1425,"y":0.3772},{"x":1440,"y":0.3394},{"x":1450,"y":0.3115},{"x":1460,"y":0.2828},{"x":1475,"y":0.2463},{"x":1490,"y":0.2225},{"x":1500,"y":0.2229},{"x":1510,"y":0.2419},{"x":1520,"y":0.2843},{"x":1530,"y":0.3535},{"x":1540,"y":0.4496},{"x":1550,"y":0.5677},{"x":1560,"y":0.6965},{"x":1570,"y":0.8211},{"x":1580,"y":0.9221},{"x":1590,"y":0.9842},{"x":1598,"y":0.9974},{"x":1605,"y":0.9783},{"x":1615,"y":0.9001},{"x":1625,"y":0.7765},{"x":1635,"y":0.6264},{"x":1645,"y":0.4727},{"x":1655,"y":0.3329},{"x":1665,"y":0.2181},{"x":1675,"y":0.1322},{"x":1685,"y":0.073},{"x":1695,"y":0.0353},{"x":1710,"y":0.0063},{"x":1725,"y":-0.005},{"x":1750,"y":-0.0095},{"x":1970,"y":-0.01}],
    "c_base": [{"x":750,"y":-0.01},{"x":1970,"y":-0.01}],
    "c_lab": [{"t":"1375","x":1249,"y":0.503},{"t":"1589","x":1672,"y":1.105}],
    "c_ul": [{"x":1205,"x2":1287,"y":0.467},{"x":1628,"x2":1717,"y":1.08}],
    "c_ld": [{"x":1287,"y":0.467,"x2":1303,"y2":0.43},{"x":1628,"y":1.08,"x2":1619,"y2":1.025}],
    "c_ar": [{"x":1303,"y":0.43},{"x":1619,"y":1.025}]
  },
  "vconcat": [
    {
      "hconcat": [
        {"width": 40, "height": 10, "data": {"values": []}, "mark": "point", "encoding": {}},
        {
          "width": 561, "height": 382,
          "title": {"text": "а", "orient": "bottom", "anchor": "middle", "frame": "bounds", "offset": 15, "font": "Liberation Serif", "fontSize": 32, "fontWeight": "normal", "color": "#111"},
          "encoding": {
            "x": {"field": "x", "type": "quantitative", "scale": {"domain": [700, 2000], "nice": false, "zero": false},
              "axis": {"values": [700,800,900,1000,1100,1200,1300,1400,1500,1600,1700,1800,1900,2000], "labelExpr": "datum.value % 200 == 0 ? datum.value : ''", "tickSize": {"condition": {"test": "datum.value % 200 == 0", "value": 8}, "value": 5}, "labelFontSize": 16, "labelPadding": 4, "title": "Частотный сдвиг, см⁻¹", "titleFontSize": 15, "titleAnchor": "end", "titleAlign": "right", "titleBaseline": "middle", "titleX": 568, "titleY": 48}},
            "y": {"field": "y", "type": "quantitative", "scale": {"domain": [-0.6, 1.3], "nice": false, "zero": false},
              "axis": {"values": [-0.6,-0.5,-0.4,-0.3,-0.2,-0.1,0,0.1,0.2,0.3,0.4,0.5,0.6,0.7,0.8,0.9,1.0,1.1,1.2,1.3], "labelExpr": "abs(round(datum.value*10)) % 2 == 0 ? replace(format(datum.value, '.1f'), '−', '-') : ''", "tickSize": {"condition": {"test": "abs(round(datum.value*10)) % 2 == 0", "value": 9}, "value": 5}, "labelFontSize": 16, "labelPadding": 4, "title": "Интенсивность КР, отн.ед.", "titleFontSize": 15.5, "titleAngle": 270, "titleAlign": "center", "titleBaseline": "middle", "titleX": -62, "titleY": 200}}
          },
          "layer": [
            {"data": {"name": "a_noise"}, "mark": {"type": "line", "color": "#444", "strokeWidth": 1.1, "opacity": 0.85}},
            {"data": {"name": "a_comp"}, "mark": {"type": "line", "color": "#1a1a1a", "strokeWidth": 1.4, "interpolate": "monotone"}, "encoding": {"detail": {"field": "s"}}},
            {"data": {"name": "a_env"}, "mark": {"type": "line", "color": "#111", "strokeWidth": 2.2, "interpolate": "monotone"}},
            {"data": {"name": "a_base"}, "mark": {"type": "line", "color": "#111", "strokeWidth": 3}},
            {"data": {"name": "a_ul"}, "mark": {"type": "rule", "color": "#222", "strokeWidth": 1.2}, "encoding": {"x2": {"field": "x2"}}},
            {"data": {"name": "a_ld"}, "mark": {"type": "rule", "color": "#222", "strokeWidth": 1.2}, "encoding": {"x2": {"field": "x2"}, "y2": {"field": "y2"}}},
            {"data": {"name": "a_ar"}, "mark": {"type": "point", "shape": "triangle-down", "filled": true, "size": 40, "color": "#222", "opacity": 1}},
            {"data": {"name": "a_lab"}, "mark": {"type": "text", "font": "Liberation Sans", "fontWeight": "bold", "fontSize": 15.5, "color": "#222"}, "encoding": {"text": {"field": "t"}}}
          ]
        }
      ],
      "spacing": 0
    },
    {
      "hconcat": [
        {"width": 33, "height": 10, "data": {"values": []}, "mark": "point", "encoding": {}},
        {
          "width": 590, "height": 386,
          "encoding": {
            "x": {"field": "x", "type": "quantitative", "scale": {"domain": [800, 2100], "nice": false, "zero": false},
              "axis": {"values": [800,900,1000,1100,1200,1300,1400,1500,1600,1700,1800,1900,2000,2100], "labelExpr": "datum.value % 200 == 0 && datum.value <= 2000 ? datum.value : ''", "tickSize": {"condition": {"test": "datum.value % 200 == 0", "value": 8}, "value": 5}, "labelFontSize": 17, "labelPadding": 4, "title": "Частотный сдвиг, см⁻¹", "titleFontSize": 16, "titleAnchor": "end", "titleAlign": "right", "titleBaseline": "middle", "titleX": 595, "titleY": 43}},
            "y": {"field": "y", "type": "quantitative", "scale": {"domain": [-0.2, 1.1], "nice": false, "zero": false},
              "axis": {"values": [-0.2,-0.1,0,0.1,0.2,0.3,0.4,0.5,0.6,0.7,0.8,0.9,1.0,1.1], "labelExpr": "abs(round(datum.value*10)) % 2 == 0 ? replace(format(datum.value, '.1f'), '−', '-') : ''", "tickSize": {"condition": {"test": "abs(round(datum.value*10)) % 2 == 0", "value": 10}, "value": 6}, "labelFontSize": 17, "labelPadding": 4, "title": "Интенсивность КР, отн.ед.", "titleFontSize": 16, "titleAngle": 270, "titleAlign": "center", "titleBaseline": "middle", "titleX": -62, "titleY": 201}}
          },
          "layer": [
            {"data": {"name": "b_noise"}, "mark": {"type": "line", "color": "#6e6e6e", "strokeWidth": 2.5}},
            {"data": {"name": "b_comp"}, "mark": {"type": "line", "color": "#3a3a3a", "strokeWidth": 1.3, "interpolate": "monotone"}, "encoding": {"detail": {"field": "s"}}},
            {"data": {"name": "b_env"}, "mark": {"type": "line", "color": "#222", "strokeWidth": 2.2, "interpolate": "monotone"}},
            {"data": {"name": "b_base"}, "mark": {"type": "line", "color": "#111", "strokeWidth": 3}},
            {"data": {"name": "b_ul"}, "mark": {"type": "rule", "color": "#222", "strokeWidth": 1.2}, "encoding": {"x2": {"field": "x2"}}},
            {"data": {"name": "b_ld"}, "mark": {"type": "rule", "color": "#222", "strokeWidth": 1.2}, "encoding": {"x2": {"field": "x2"}, "y2": {"field": "y2"}}},
            {"data": {"name": "b_ar"}, "mark": {"type": "point", "shape": "triangle-down", "filled": true, "size": 40, "color": "#222", "opacity": 1}},
            {"data": {"name": "b_lab"}, "mark": {"type": "text", "font": "Liberation Sans", "fontWeight": "bold", "fontSize": 17, "color": "#222"}, "encoding": {"text": {"field": "t"}}}
          ]
        }
      ],
      "spacing": 0
    },
    {
      "title": {"text": "б", "orient": "top", "anchor": "middle", "frame": "bounds", "offset": 4, "dy": 10, "font": "Liberation Serif", "fontSize": 32, "fontWeight": "normal", "color": "#111"},
      "hconcat": [
        {"width": 14, "height": 10, "data": {"values": []}, "mark": "point", "encoding": {}},
        {
          "width": 625, "height": 453,
          "title": {"text": "в", "orient": "bottom", "anchor": "middle", "frame": "bounds", "offset": 3, "font": "Liberation Serif", "fontSize": 32, "fontWeight": "normal", "color": "#111"},
          "encoding": {
            "x": {"field": "x", "type": "quantitative", "scale": {"domain": [600, 2100], "nice": false, "zero": false},
              "axis": {"values": [600,700,800,900,1000,1100,1200,1300,1400,1500,1600,1700,1800,1900,2000,2100], "labelExpr": "datum.value % 200 == 0 && datum.value <= 2000 ? datum.value : ''", "tickSize": {"condition": {"test": "datum.value % 200 == 0", "value": 8}, "value": 5}, "labelFontSize": 18, "labelPadding": 4, "title": "Частотный сдвиг, см⁻¹", "titleFontSize": 16, "titleAnchor": "end", "titleAlign": "right", "titleBaseline": "middle", "titleX": 627, "titleY": 47}},
            "y": {"field": "y", "type": "quantitative", "scale": {"domain": [-0.3, 1.3], "nice": false, "zero": false},
              "axis": {"values": [-0.3,-0.2,-0.1,0,0.1,0.2,0.3,0.4,0.5,0.6,0.7,0.8,0.9,1.0,1.1,1.2,1.3], "labelExpr": "abs(round(datum.value*10)) % 2 == 0 ? replace(format(datum.value, '.1f'), '−', '-') : ''", "tickSize": {"condition": {"test": "abs(round(datum.value*10)) % 2 == 0", "value": 10}, "value": 6}, "labelFontSize": 18, "labelPadding": 4, "title": "Интенсивность КР, отн.ед.", "titleFontSize": 16.5, "titleAngle": 270, "titleAlign": "center", "titleBaseline": "middle", "titleX": -66, "titleY": 224}}
          },
          "layer": [
            {"data": {"name": "c_noise"}, "mark": {"type": "line", "color": "#222", "strokeWidth": 1.4}},
            {"data": {"name": "c_comp"}, "mark": {"type": "line", "color": "#111", "strokeWidth": 1.8, "interpolate": "monotone"}, "encoding": {"detail": {"field": "s"}}},
            {"data": {"name": "c_env"}, "mark": {"type": "line", "color": "#111", "strokeWidth": 2.6, "interpolate": "monotone"}},
            {"data": {"name": "c_base"}, "mark": {"type": "line", "color": "#111", "strokeWidth": 3}},
            {"data": {"name": "c_ul"}, "mark": {"type": "rule", "color": "#222", "strokeWidth": 1.2}, "encoding": {"x2": {"field": "x2"}}},
            {"data": {"name": "c_ld"}, "mark": {"type": "rule", "color": "#222", "strokeWidth": 1.2}, "encoding": {"x2": {"field": "x2"}, "y2": {"field": "y2"}}},
            {"data": {"name": "c_ar"}, "mark": {"type": "point", "shape": "triangle-down", "filled": true, "size": 40, "color": "#222", "opacity": 1}},
            {"data": {"name": "c_lab"}, "mark": {"type": "text", "font": "Liberation Sans", "fontWeight": "bold", "fontSize": 17, "color": "#222"}, "encoding": {"text": {"field": "t"}}}
          ]
        }
      ],
      "spacing": 0
    }
  ]
}
